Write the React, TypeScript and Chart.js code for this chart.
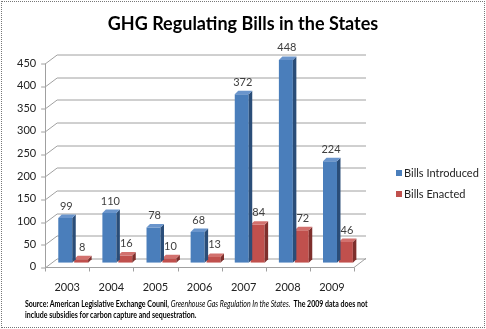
import React, { useEffect, useRef } from "react";
import { Chart, registerables } from "chart.js";

Chart.register(...registerables);

const years = ["2003", "2004", "2005", "2006", "2007", "2008", "2009"];
const billsIntroduced = [99, 110, 78, 68, 372, 448, 224];
const billsEnacted = [8, 16, 10, 13, 84, 72, 46];
const yTicks = [0, 50, 100, 150, 200, 250, 300, 350, 400, 450];
const seriesNames = ["Bills Introduced", "Bills Enacted"];
const titleText = "GHG Regulating Bills in the States";

const FONT = "Lato, 'Open Sans', sans-serif";
const DX = 6;
const DY = 4.5;

const frontColors = ["#4A7EBB", "#C0504D"];
const sideColors = ["#2A4D78", "#7E2F2C"];
const topColors = ["#6A95CC", "#D2716E"];

const threeDPlugin = {
  id: "threeD",
  beforeDatasetsDraw(chart: any) {
    const ctx = chart.ctx;
    const { left, right, bottom } = chart.chartArea;
    const ys = chart.scales.y;
    ctx.save();
    ctx.strokeStyle = "#a0a0a0";
    ctx.lineWidth = 1;
    yTicks.forEach((v) => {
      const y = Math.round(ys.getPixelForValue(v)) + 0.5;
      ctx.beginPath();
      ctx.moveTo(left - DX, y + DY);
      ctx.lineTo(left + DX, y - DY);
      ctx.lineTo(right + DX, y - DY);
      ctx.stroke();
      ctx.beginPath();
      ctx.moveTo(left - DX - 4, y + DY);
      ctx.lineTo(left - DX, y + DY);
      ctx.stroke();
    });
    const fx = Math.round(left - DX) + 0.5;
    ctx.beginPath();
    ctx.moveTo(fx, ys.getPixelForValue(450) + DY);
    ctx.lineTo(fx, bottom + DY);
    ctx.stroke();
    const fy = Math.round(bottom + DY) + 0.5;
    ctx.beginPath();
    ctx.moveTo(left - DX, fy);
    ctx.lineTo(right - DX, fy);
    ctx.lineTo(right + DX, bottom - DY);
    ctx.stroke();
    const n = years.length;
    const w = (right - left) / n;
    for (let i = 0; i <= n; i++) {
      const x = Math.round(left - DX + i * w) + 0.5;
      ctx.beginPath();
      ctx.moveTo(x, fy);
      ctx.lineTo(x, fy + 4);
      ctx.stroke();
    }
    ctx.restore();
  },
  afterDatasetsDraw(chart: any) {
    const ctx = chart.ctx;
    const d = 3.5;
    ctx.save();
    [1, 0].forEach((di) => {
      const meta = chart.getDatasetMeta(di);
      meta.data.forEach((bar: any) => {
        const { x, y, base, width } = bar.getProps(["x", "y", "base", "width"], true);
        const l = x - width / 2;
        const r = x + width / 2;
        ctx.fillStyle = sideColors[di];
        ctx.beginPath();
        ctx.moveTo(r, y);
        ctx.lineTo(r + d, y - d);
        ctx.lineTo(r + d, base - d);
        ctx.lineTo(r, base);
        ctx.closePath();
        ctx.fill();
        ctx.fillStyle = topColors[di];
        ctx.beginPath();
        ctx.moveTo(l, y);
        ctx.lineTo(l + d, y - d);
        ctx.lineTo(r + d, y - d);
        ctx.lineTo(r, y);
        ctx.closePath();
        ctx.fill();
      });
    });
    ctx.fillStyle = "#404040";
    ctx.font = `11px ${FONT}`;
    ctx.textAlign = "center";
    ctx.textBaseline = "middle";
    [0, 1].forEach((di) => {
      const meta = chart.getDatasetMeta(di);
      const vals = chart.data.datasets[di].data;
      meta.data.forEach((bar: any, i: number) => {
        const { x, y } = bar.getProps(["x", "y"], true);
        ctx.fillText(String(vals[i]), x + 1, y - 12);
      });
    });
    ctx.restore();
  },
  afterDraw(chart: any) {
    const ctx = chart.ctx;
    ctx.save();
    ctx.font = `bold 18px ${FONT}`;
    ctx.fillStyle = "#000";
    ctx.textAlign = "center";
    ctx.textBaseline = "middle";
    ctx.fillText(titleText, 243, 24);
    ctx.font = `11px ${FONT}`;
    ctx.textAlign = "left";
    chart.data.datasets.forEach((ds: any, i: number) => {
      const cy = 173 + i * 21;
      ctx.fillStyle = frontColors[i];
      ctx.fillRect(396, cy - 3, 6, 6);
      ctx.fillStyle = "#222";
      ctx.fillText(ds.label, 404, cy);
    });
    ctx.restore();
  },
};

export default function App() {
  const ref = useRef<HTMLCanvasElement>(null);
  useEffect(() => {
    const chart = new Chart(ref.current!, {
      type: "bar",
      data: {
        labels: years,
        datasets: [
          {
            label: seriesNames[0],
            data: billsIntroduced,
            backgroundColor: frontColors[0],
            borderWidth: 0,
          },
          {
            label: seriesNames[1],
            data: billsEnacted,
            backgroundColor: frontColors[1],
            borderWidth: 0,
          },
        ],
      },
      options: {
        responsive: false,
        animation: false,
        layout: { padding: { left: 2, right: 126, top: 59, bottom: 17 } },
        datasets: { bar: { categoryPercentage: 0.72, barPercentage: 0.88 } },
        plugins: {
          legend: { display: false },
          tooltip: { enabled: false },
          title: { display: false },
        },
        scales: {
          x: {
            grid: { display: false, drawTicks: false },
            border: { display: false },
            ticks: {
              font: { family: FONT, size: 11 },
              color: "#222",
              padding: 18,
              labelOffset: -6,
            },
          },
          y: {
            min: 0,
            max: 450,
            afterBuildTicks: (axis: any) => {
              axis.ticks = yTicks.map((v) => ({ value: v }));
            },
            grid: { display: false, drawTicks: false },
            border: { display: false },
            ticks: {
              font: { family: FONT, size: 11 },
              color: "#222",
              padding: 15,
              labelOffset: 4,
            },
          },
        },
      },
      plugins: [threeDPlugin],
    });
    return () => chart.destroy();
  }, []);

  return (
    <div style={{ position: "fixed", left: 0, top: 0, width: 486, height: 329, background: "#fff" }}>
      <canvas ref={ref} width={486} height={329} style={{ position: "absolute", left: 0, top: 0 }} />
      <div
        style={{
          position: "absolute",
          left: 1,
          top: 1,
          width: 482,
          height: 325,
          border: "1px dotted #777",
          pointerEvents: "none",
        }}
      />
      <div
        style={{
          position: "absolute",
          left: 25,
          top: 298,
          fontFamily: FONT,
          fontSize: 9,
          lineHeight: "11px",
          color: "#000",
          whiteSpace: "nowrap",
          transform: "scaleX(0.78)",
          transformOrigin: "left top",
        }}
      >
        <b>Source: American Legislative Exchange Counil, </b>
        <i>Greenhouse Gas Regulation In the States.</i>
        <b>&nbsp; The 2009 data does not</b>
        <br />
        <b>include subsidies for carbon capture and sequestration.</b>
      </div>
    </div>
  );
}
